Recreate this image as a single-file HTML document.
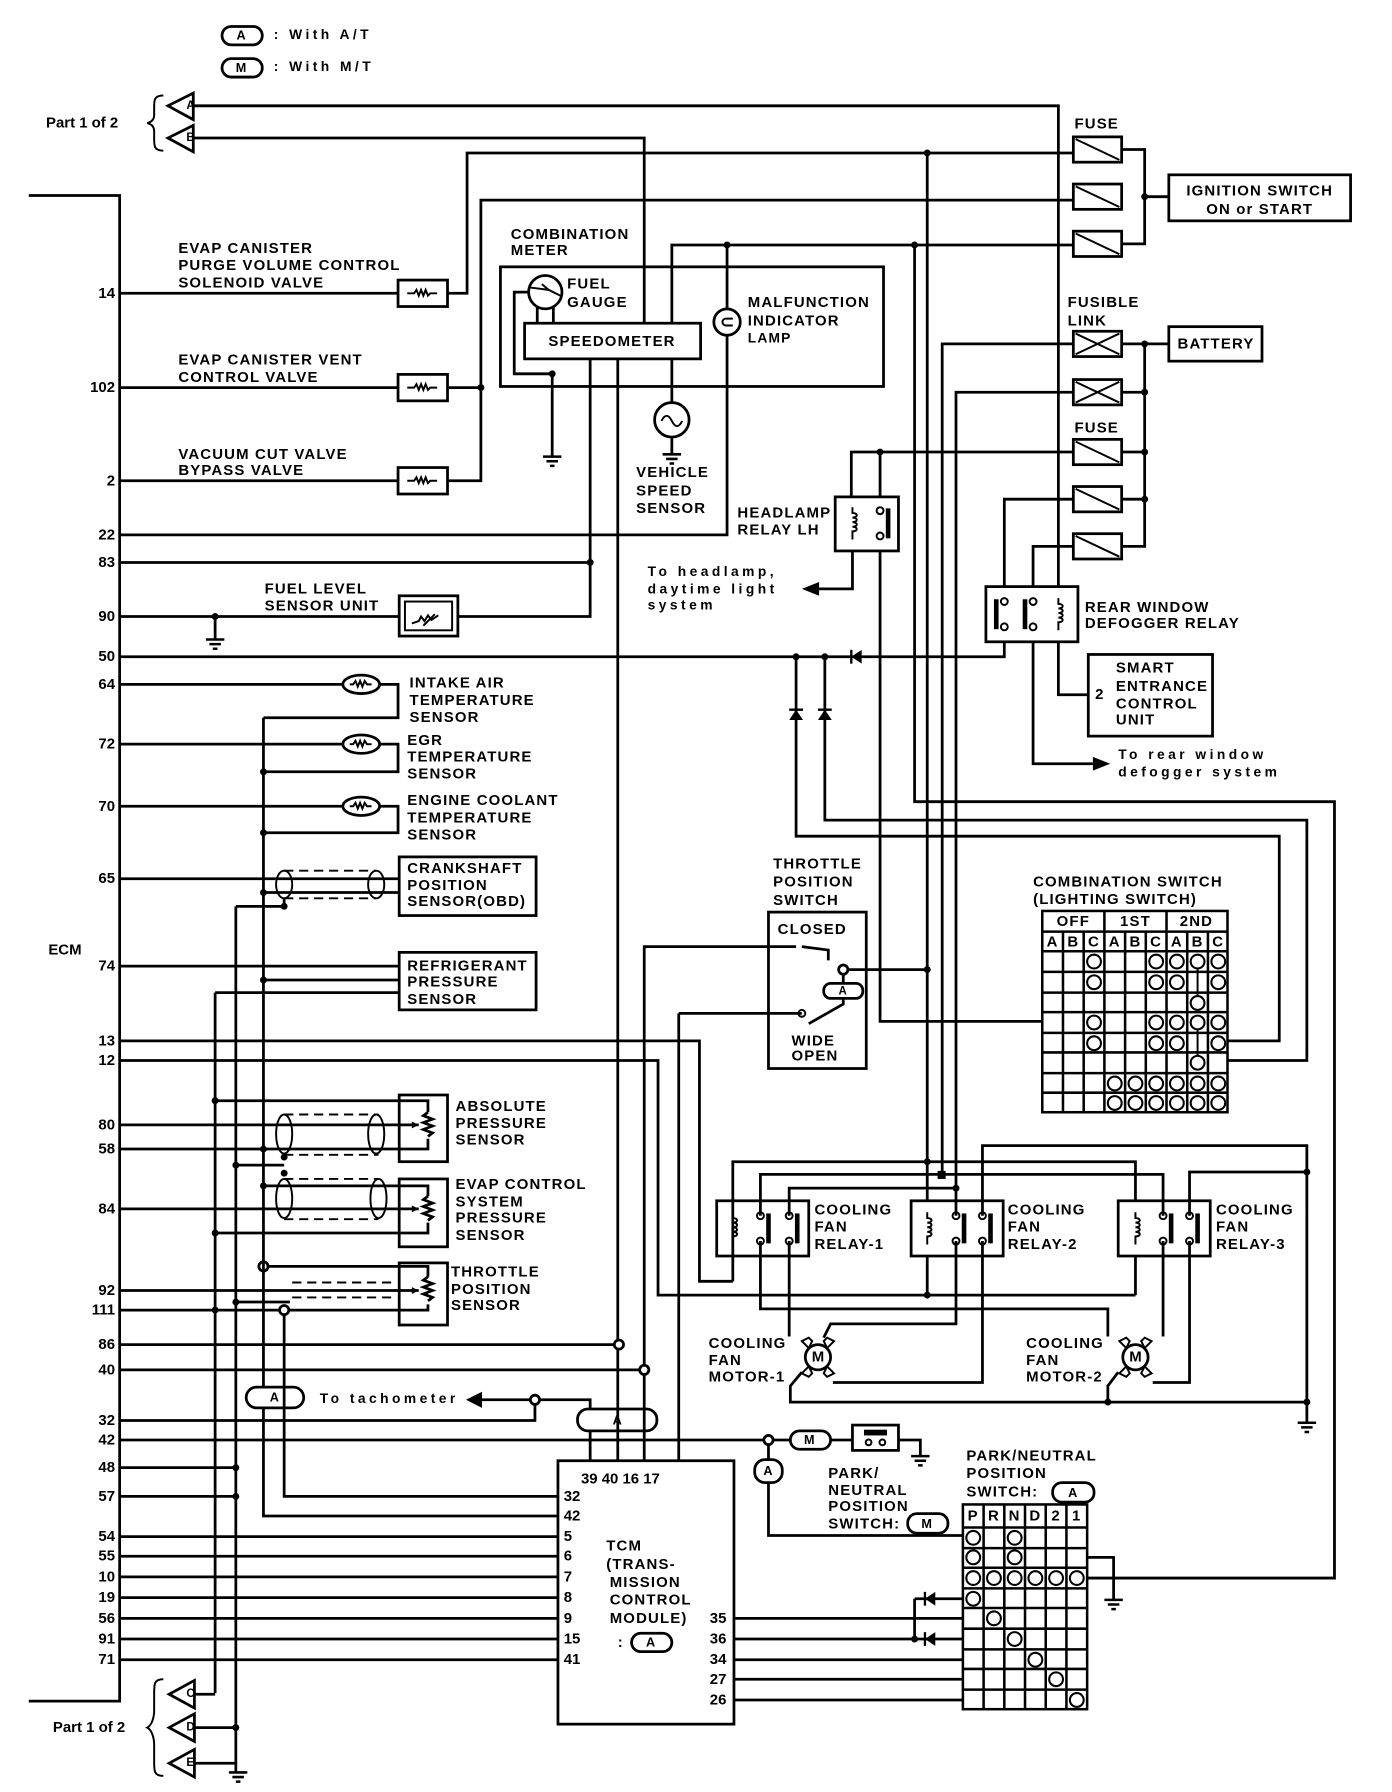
<!DOCTYPE html>
<html><head><meta charset="utf-8"><style>
html,body{margin:0;padding:0;background:#fff}
svg{display:block}
text{font-family:"Liberation Sans",sans-serif;font-weight:bold;font-size:13px;letter-spacing:1px;fill:#000;dominant-baseline:central}
.p{text-anchor:end;font-size:13px;letter-spacing:0}
.s{letter-spacing:3px;font-size:12px}
.w{fill:none;stroke:#000;stroke-width:2.4}
.t{fill:none;stroke:#000;stroke-width:1.7}
.d{fill:none;stroke:#000;stroke-width:1.7;stroke-dasharray:8 5}
</style></head><body>
<svg width="1392" height="1792" viewBox="0 0 1210 1558" preserveAspectRatio="none" xmlns="http://www.w3.org/2000/svg">
<rect width="1210" height="1558" fill="#fff"/>
<defs>
<g id="gnd"><path d="M-8,0H8M-5,4H5M-2,8H2" stroke="#000" stroke-width="2.2"/></g>
<g id="fuse"><rect x="0" y="-11" width="42" height="22" class="w"/><path d="M2,-9L40,9" class="t"/></g>
<g id="fl"><rect x="0" y="-11" width="42" height="22" class="w"/><path d="M2,-9L40,9M2,9L40,-9" class="t"/></g>
<g id="sol"><rect x="0" y="-11.5" width="43" height="23" class="w"/><path d="M8,0h6l2,-3l2,5l2,-5l2,5l2,-5l2,5l2,-2h6" class="t"/></g>
<g id="th"><ellipse cx="0" cy="0" rx="16" ry="8" class="w"/><path d="M-10,0h3l2,-3l2,5l2,-5l2,5l2,-5l2,3h4" class="t"/></g>
<g id="coil"><path d="M0,-14V-9c5,0 5,4 0,4c5,0 5,4 0,4c5,0 5,4 0,4c5,0 5,4 0,4V14" class="t"/></g>
<g id="ct"><circle cx="0" cy="-11" r="3" class="t" fill="#fff"/><circle cx="0" cy="11" r="3" class="t" fill="#fff"/><rect x="5" y="-13" width="4" height="26" fill="#000"/></g>
<g id="motor"><circle cx="0" cy="0" r="11" class="w"/><text x="0" y="0" text-anchor="middle" style="font-size:13px;letter-spacing:0">M</text>
<path d="M-14,-14l6,-3l3,3l-3,6z M14,-14l-6,-3l-3,3l3,6z M-14,14l6,3l3,-3l-3,-6z M14,14l-6,3l-3,-3l3,-6z" class="t"/></g>
</defs>

<rect x="193" y="23" width="35" height="16" rx="8" class="w"/><text x="210" y="31" text-anchor="middle" style="font-size:11px">A</text>
<text x="238" y="30" class="s">: With A/T</text>
<rect x="193" y="51" width="35" height="16" rx="8" class="w"/><text x="210" y="59" text-anchor="middle" style="font-size:11px">M</text>
<text x="238" y="58" class="s">: With M/T</text>

<text x="40" y="107" style="font-size:13px;letter-spacing:0">Part 1 of 2</text>
<path d="M142,83c-8,0 -8,4 -8,10v7c0,4 -2,6 -6,7c4,1 6,3 6,7v7c0,6 0,10 8,10" class="t"/>
<path d="M168,81L146,92L168,104Z" class="w"/><text x="162" y="92" style="font-size:10px;letter-spacing:0">A</text>
<path d="M168,109L146,120L168,132Z" class="w"/><text x="162" y="120" style="font-size:10px;letter-spacing:0">B</text>

<path d="M25,170H104V1479H25" class="w"/>
<text x="42" y="826" style="font-size:13px;letter-spacing:0">ECM</text>
<g class="p">
<text x="100" y="255" class="p">14</text><text x="100" y="337" class="p">102</text><text x="100" y="418" class="p">2</text>
<text x="100" y="465" class="p">22</text><text x="100" y="489" class="p">83</text><text x="100" y="536" class="p">90</text>
<text x="100" y="571" class="p">50</text><text x="100" y="595" class="p">64</text><text x="100" y="647" class="p">72</text>
<text x="100" y="701" class="p">70</text><text x="100" y="764" class="p">65</text><text x="100" y="840" class="p">74</text>
<text x="100" y="905" class="p">13</text><text x="100" y="922" class="p">12</text><text x="100" y="978" class="p">80</text>
<text x="100" y="999" class="p">58</text><text x="100" y="1051" class="p">84</text><text x="100" y="1122" class="p">92</text>
<text x="100" y="1139" class="p">111</text><text x="100" y="1169" class="p">86</text><text x="100" y="1191" class="p">40</text>
<text x="100" y="1235" class="p">32</text><text x="100" y="1252" class="p">42</text><text x="100" y="1276" class="p">48</text>
<text x="100" y="1301" class="p">57</text><text x="100" y="1336" class="p">54</text><text x="100" y="1353" class="p">55</text>
<text x="100" y="1371" class="p">10</text><text x="100" y="1389" class="p">19</text><text x="100" y="1407" class="p">56</text>
<text x="100" y="1425" class="p">91</text><text x="100" y="1443" class="p">71</text>
</g>

<path d="M168,92H920V510" class="w"/>
<path d="M168,120H560V281" class="w"/>
<path d="M104,255H346M390,255H406V133H933" class="w"/>
<path d="M104,337H346M390,337H418M390,418H418V174H933" class="w"/>
<path d="M104,418H346" class="w"/>
<use href="#sol" x="346" y="255"/><use href="#sol" x="346" y="337"/><use href="#sol" x="346" y="418"/>
<text x="155" y="216">EVAP CANISTER</text><text x="155" y="231">PURGE VOLUME CONTROL</text><text x="155" y="246">SOLENOID VALVE</text>
<text x="155" y="313">EVAP CANISTER VENT</text><text x="155" y="328">CONTROL VALVE</text>
<text x="155" y="395">VACUUM CUT VALVE</text><text x="155" y="409">BYPASS VALVE</text>

<text x="444" y="204">COMBINATION</text><text x="444" y="218">METER</text>
<rect x="435" y="232" width="333" height="104" class="w"/>
<rect x="456" y="281" width="153" height="31" class="w"/>
<text x="532" y="297" text-anchor="middle">SPEEDOMETER</text>
<circle cx="474" cy="254" r="14.5" class="w"/><path d="M461,250l16,2l10,5M477,252l-6,-5" class="t"/>
<text x="493" y="247">FUEL</text><text x="493" y="263">GAUGE</text>
<path d="M467,267V281M481,267V281M460,254H447V325H480V397" class="w"/>
<use href="#gnd" x="480" y="397"/>
<path d="M584,281V213H933" class="w"/>
<path d="M632,213V268M632,291V465H104" class="w"/>
<circle cx="632" cy="280" r="11.5" class="w"/><path d="M637,277h-6a3,3 0 0 0 0,6h6" class="t"/>
<text x="650" y="263">MALFUNCTION</text><text x="650" y="279">INDICATOR</text><text x="650" y="294" style="font-size:12px">LAMP</text>
<path d="M584,312V350M584,381V394" class="w"/>
<circle cx="584" cy="365" r="15" class="w"/><path d="M575,366c3,-6 6,-6 9,0s6,6 9,0" class="t"/>
<use href="#gnd" x="584" y="395"/>
<text x="553" y="411">VEHICLE</text><text x="553" y="427">SPEED</text><text x="553" y="442">SENSOR</text>
<path d="M513,312V536H398M104,489H513M537,312V1166" class="w"/>
<path d="M104,536H346" class="w"/>
<rect x="347" y="518" width="51" height="35" class="w"/><rect x="352" y="523" width="41" height="25" class="t"/>
<path d="M358,542l6,-2l2,-4l3,4l3,-5l3,4l6,-4M368,544l10,-10" class="t"/>
<path d="M187,536V556" class="w"/><use href="#gnd" x="187" y="556"/>
<text x="230" y="512">FUEL LEVEL</text><text x="230" y="527">SENSOR UNIT</text>

<text x="934" y="108">FUSE</text>
<use href="#fuse" x="933" y="130"/><use href="#fuse" x="933" y="171"/><use href="#fuse" x="933" y="212"/>
<path d="M975,130H995V212H975M995,171H1016" class="w"/>
<rect x="1016" y="152" width="158" height="40" class="w"/>
<text x="1095" y="166" text-anchor="middle">IGNITION SWITCH</text><text x="1095" y="182" text-anchor="middle">ON or START</text>
<text x="928" y="263">FUSIBLE</text><text x="928" y="279">LINK</text>
<use href="#fl" x="933" y="299"/><use href="#fl" x="933" y="341"/>
<text x="934" y="372">FUSE</text>
<use href="#fuse" x="933" y="393"/><use href="#fuse" x="933" y="434"/><use href="#fuse" x="933" y="475"/>
<path d="M975,299H1016M995,299V475H975M975,341H995M975,393H995M975,434H995" class="w"/>
<rect x="1016" y="284" width="81" height="30" class="w"/><text x="1057" y="299" text-anchor="middle">BATTERY</text>

<path d="M933,299H819V1021M933,341H831V1033M806,133V1044M806,1092V1126M795,213V697H1160V1372H945" class="w"/>
<path d="M933,393H740V432M765,393V432M765,479V888H906M741,479V512H712" class="w"/>
<path d="M697,512l15,-6v12z" fill="#000"/>
<rect x="726" y="432" width="55" height="47" class="w"/>
<use href="#coil" x="741" y="455"/><use href="#ct" x="765" y="455"/>
<text x="641" y="446">HEADLAMP</text><text x="641" y="461">RELAY LH</text>
<text x="563" y="497" class="s">To headlamp,</text><text x="563" y="512" class="s">daytime light</text><text x="563" y="526" class="s">system</text>

<path d="M933,434H873V510M933,475H898V510" class="w"/>
<rect x="857" y="510" width="80" height="48" class="w"/>
<g transform="translate(873,534) scale(-1,1)"><use href="#ct"/></g><g transform="translate(898,534) scale(-1,1)"><use href="#ct"/></g>
<use href="#coil" x="920" y="534"/>
<text x="943" y="528">REAR WINDOW</text><text x="943" y="542">DEFOGGER RELAY</text>
<path d="M873,558V571H104M920,558V604H946M898,558V664H950" class="w"/>
<path d="M965,664l-15,-6v12z" fill="#000"/>
<path d="M740,571l9,-6v12z" fill="#000"/><path d="M740,565v12" stroke="#000" stroke-width="2"/>
<rect x="946" y="569" width="108" height="71" class="w"/>
<text x="952" y="604">2</text>
<text x="970" y="581">SMART</text><text x="970" y="597">ENTRANCE</text><text x="970" y="612">CONTROL</text><text x="970" y="626">UNIT</text>
<text x="972" y="656" class="s">To rear window</text><text x="972" y="671" class="s">defogger system</text>
<path d="M692,571V727H1112V905H1067M717,571V713H1136V922H1067" class="w"/>
<path d="M686,626h12l-6,-9z M711,626h12l-6,-9z" fill="#000"/><path d="M686,617h12M711,617h12" stroke="#000" stroke-width="2"/>

<path d="M104,595H298M330,595H346V624H229M104,647H298M330,647H346V671H229M104,701H298M330,701H346V724H229" class="w"/>
<use href="#th" x="314" y="595"/><use href="#th" x="314" y="647"/><use href="#th" x="314" y="701"/>
<text x="356" y="594">INTAKE AIR</text><text x="356" y="609">TEMPERATURE</text><text x="356" y="624">SENSOR</text>
<text x="354" y="644">EGR</text><text x="354" y="658">TEMPERATURE</text><text x="354" y="673">SENSOR</text>
<text x="354" y="696">ENGINE COOLANT</text><text x="354" y="711">TEMPERATURE</text><text x="354" y="726">SENSOR</text>
<rect x="347" y="745" width="119" height="51" class="w"/>
<text x="354" y="755">CRANKSHAFT</text><text x="354" y="770">POSITION</text><text x="354" y="784">SENSOR(OBD)</text>
<path d="M104,764H347M229,776H347M205,788H247V781" class="w"/>
<path d="M247,757H327M247,781H327" class="d"/><ellipse cx="247" cy="769" rx="7" ry="12" class="t"/><ellipse cx="327" cy="769" rx="7" ry="12" class="t"/>
<rect x="347" y="828" width="119" height="50" class="w"/>
<text x="354" y="840">REFRIGERANT</text><text x="354" y="854">PRESSURE</text><text x="354" y="869">SENSOR</text>
<path d="M104,840H347M229,852H347M187,863H347" class="w"/>
<path d="M229,624V1206M229,1224V1318H484M187,863V1472M205,788V1533" class="w"/>
<path d="M104,905H608V1114H637M104,922H572V1126H987" class="w"/>

<rect x="347" y="952" width="42" height="58" class="w"/>
<path d="M187,957H372V967M104,978H364M372,990V999H104M372,967l-4,3l8,3l-8,3l8,3l-8,3l8,3l-4,3" class="w"/>
<path d="M358,975l6,3l-6,3z" fill="#000"/>
<path d="M247,969H329M247,1004H329" class="d"/><ellipse cx="247" cy="986" rx="7" ry="17" class="t"/><ellipse cx="327" cy="986" rx="7" ry="17" class="t"/>
<text x="396" y="962">ABSOLUTE</text><text x="396" y="977">PRESSURE</text><text x="396" y="991">SENSOR</text>
<rect x="347" y="1025" width="42" height="59" class="w"/>
<path d="M229,1031H372V1040M104,1051H364M372,1063V1072H187M372,1040l-4,3l8,3l-8,3l8,3l-8,3l8,3l-4,3M205,1013H247" class="w"/>
<path d="M358,1048l6,3l-6,3z" fill="#000"/>
<path d="M247,1025H329M247,1060H329" class="d"/><ellipse cx="247" cy="1042" rx="7" ry="17" class="t"/><ellipse cx="329" cy="1042" rx="7" ry="17" class="t"/>
<text x="396" y="1030">EVAP CONTROL</text><text x="396" y="1045">SYSTEM</text><text x="396" y="1059">PRESSURE</text><text x="396" y="1074">SENSOR</text>
<rect x="347" y="1098" width="42" height="54" class="w"/>
<path d="M233,1101H372V1110M104,1122H364M372,1134V1139H251M243,1139H104M372,1110l-4,3l8,3l-8,3l8,3l-8,3l8,3l-4,3M205,1132H252" class="w"/>
<path d="M358,1119l6,3l-6,3z" fill="#000"/>
<path d="M254,1115H340M254,1128H340" class="d"/>
<circle cx="229" cy="1101" r="4" class="w" fill="#fff"/><circle cx="247" cy="1139" r="4" class="w" fill="#fff"/>
<path d="M247,1143V1301H484" class="w"/>
<text x="392" y="1106">THROTTLE</text><text x="392" y="1121">POSITION</text><text x="392" y="1135">SENSOR</text>

<path d="M104,1169H534M104,1191H556M104,1235H465V1221M469,1217H513V1225M104,1252H664M104,1276H205M104,1301H205" class="w"/>
<circle cx="538" cy="1169" r="4" class="w" fill="#fff"/><circle cx="560" cy="1191" r="4" class="w" fill="#fff"/>
<circle cx="465" cy="1217" r="4" class="w" fill="#fff"/>
<path d="M560,1187V823H692M560,1195V1270M537,1173V1270M513,1244V1270M590,881V1270H590" class="w"/>
<rect x="502" y="1225" width="69" height="19" rx="9" class="w" fill="#fff"/><text x="537" y="1235" text-anchor="middle" style="font-size:11px">A</text>
<rect x="214" y="1206" width="50" height="18" rx="9" class="w" fill="#fff"/><text x="239" y="1215" text-anchor="middle" style="font-size:11px">A</text>
<text x="278" y="1216" class="s">To tachometer</text>
<path d="M405,1217l14,-7v14z" fill="#000"/><path d="M415,1217H461" class="w"/>

<rect x="485" y="1270" width="153" height="229" class="w"/>
<text x="505" y="1286" style="letter-spacing:0">39 40 16 17</text>
<text x="490" y="1301" style="letter-spacing:0">32</text><text x="490" y="1318" style="letter-spacing:0">42</text>
<text x="490" y="1336">5</text><text x="490" y="1353">6</text><text x="490" y="1371">7</text><text x="490" y="1389">8</text>
<text x="490" y="1407">9</text><text x="490" y="1425" style="letter-spacing:0">15</text><text x="490" y="1443" style="letter-spacing:0">41</text>
<path d="M104,1336H485M104,1353H485M104,1371H485M104,1389H485M104,1407H485M104,1425H485M104,1443H485" class="w"/>
<text x="527" y="1344">TCM</text><text x="527" y="1360">(TRANS-</text><text x="530" y="1376">MISSION</text><text x="530" y="1391">CONTROL</text><text x="530" y="1407">MODULE)</text>
<text x="537" y="1428">:</text><rect x="549" y="1420" width="35" height="16" rx="8" class="w"/><text x="566" y="1428" text-anchor="middle" style="font-size:11px">A</text>
<text x="617" y="1407" style="letter-spacing:0">35</text><text x="617" y="1425" style="letter-spacing:0">36</text><text x="617" y="1443" style="letter-spacing:0">34</text>
<text x="617" y="1460" style="letter-spacing:0">27</text><text x="617" y="1478" style="letter-spacing:0">26</text>
<path d="M638,1407H837M638,1425H837M638,1443H837M638,1460H837M638,1478H837M795,1390H837M795,1390V1425" class="w"/>
<path d="M804,1390l9,-6v12z M804,1425l9,-6v12z" fill="#000"/><path d="M804,1384v12M804,1419v12" stroke="#000" stroke-width="2"/>

<text x="46" y="1502" style="font-size:13px;letter-spacing:0">Part 1 of 2</text>
<path d="M142,1460c-8,0 -8,4 -8,12v15c0,6 -2,13 -6,15c4,2 6,9 6,15v15c0,8 0,12 8,12" class="t"/>
<path d="M169,1461L147,1473L169,1485Z" class="w"/><text x="162" y="1473" style="font-size:10px;letter-spacing:0">C</text>
<path d="M169,1490L147,1502L169,1514Z" class="w"/><text x="162" y="1502" style="font-size:10px;letter-spacing:0">D</text>
<path d="M169,1521L147,1533L169,1545Z" class="w"/><text x="162" y="1533" style="font-size:10px;letter-spacing:0">E</text>
<path d="M169,1473H187M169,1502H205M169,1533H205V1541" class="w"/>
<use href="#gnd" x="207" y="1541"/>

<text x="672" y="751">THROTTLE</text><text x="672" y="767">POSITION</text><text x="672" y="783">SWITCH</text>
<rect x="668" y="793" width="85" height="136" class="w"/>
<text x="676" y="808">CLOSED</text>
<path d="M697,823l23,3V835M737,843H806M733,847V855M733,867V873L703,890M697,881H590" class="w"/>
<circle cx="733" cy="843" r="4" class="w" fill="#fff"/><circle cx="697" cy="881" r="3" class="t" fill="#fff"/>
<rect x="716" y="855" width="34" height="13" rx="6" class="w" fill="#fff"/><text x="733" y="862" text-anchor="middle" style="font-size:10px">A</text>
<text x="688" y="905">WIDE</text><text x="688" y="918">OPEN</text>

<text x="898" y="767">COMBINATION SWITCH</text><text x="898" y="782">(LIGHTING SWITCH)</text>
<g stroke="#000" stroke-width="2.2" fill="none">
<rect x="906" y="792" width="161" height="175"/>
<path d="M906,810H1067M906,827H1067M906,845H1067M906,863H1067M906,880H1067M906,898H1067M906,915H1067M906,933H1067M906,950H1067"/>
<path d="M924,810V967M942,810V967M960,792V967M978,810V967M996,810V967M1014,792V967M1032,810V967M1050,810V967"/>
</g>
<g style="font-size:11px;letter-spacing:0">
<text x="933" y="801" text-anchor="middle">OFF</text><text x="987" y="801" text-anchor="middle">1ST</text><text x="1040" y="801" text-anchor="middle">2ND</text>
<text x="915" y="819" text-anchor="middle">A</text><text x="933" y="819" text-anchor="middle">B</text><text x="951" y="819" text-anchor="middle">C</text>
<text x="969" y="819" text-anchor="middle">A</text><text x="987" y="819" text-anchor="middle">B</text><text x="1005" y="819" text-anchor="middle">C</text>
<text x="1023" y="819" text-anchor="middle">A</text><text x="1041" y="819" text-anchor="middle">B</text><text x="1059" y="819" text-anchor="middle">C</text>
</g>
<g fill="#fff" stroke="#000" stroke-width="1.8">
<circle cx="951" cy="836" r="6"/><circle cx="1005" cy="836" r="6"/><circle cx="1023" cy="836" r="6"/><circle cx="1041" cy="836" r="6"/><circle cx="1059" cy="836" r="6"/>
<circle cx="951" cy="854" r="6"/><circle cx="1005" cy="854" r="6"/><circle cx="1023" cy="854" r="6"/><circle cx="1059" cy="854" r="6"/>
<circle cx="1041" cy="872" r="6"/>
<circle cx="951" cy="889" r="6"/><circle cx="1005" cy="889" r="6"/><circle cx="1023" cy="889" r="6"/><circle cx="1041" cy="889" r="6"/><circle cx="1059" cy="889" r="6"/>
<circle cx="951" cy="907" r="6"/><circle cx="1005" cy="907" r="6"/><circle cx="1023" cy="907" r="6"/><circle cx="1059" cy="907" r="6"/>
<circle cx="1041" cy="924" r="6"/>
<circle cx="969" cy="942" r="6"/><circle cx="987" cy="942" r="6"/><circle cx="1005" cy="942" r="6"/><circle cx="1023" cy="942" r="6"/><circle cx="1041" cy="942" r="6"/><circle cx="1059" cy="942" r="6"/>
<circle cx="969" cy="959" r="6"/><circle cx="987" cy="959" r="6"/><circle cx="1005" cy="959" r="6"/><circle cx="1023" cy="959" r="6"/><circle cx="1041" cy="959" r="6"/><circle cx="1059" cy="959" r="6"/>
</g>
<path d="M1041,842V866M1041,895V918" class="t"/>

<rect x="623" y="1044" width="80" height="48" class="w"/>
<rect x="792" y="1044" width="80" height="48" class="w"/>
<rect x="972" y="1044" width="80" height="48" class="w"/>
<use href="#coil" x="637" y="1068"/><use href="#ct" x="661" y="1068"/><use href="#ct" x="686" y="1068"/>
<use href="#coil" x="806" y="1068"/><use href="#ct" x="831" y="1068"/><use href="#ct" x="854" y="1068"/>
<use href="#coil" x="987" y="1068"/><use href="#ct" x="1011" y="1068"/><use href="#ct" x="1034" y="1068"/>
<text x="708" y="1052">COOLING</text><text x="708" y="1067">FAN</text><text x="708" y="1082">RELAY-1</text>
<text x="876" y="1052">COOLING</text><text x="876" y="1067">FAN</text><text x="876" y="1082">RELAY-2</text>
<text x="1057" y="1052">COOLING</text><text x="1057" y="1067">FAN</text><text x="1057" y="1082">RELAY-3</text>
<path d="M637,1114V1010H987V1044M987,1092V1126M637,1054V1044M637,1092V1114" class="w"/>
<path d="M661,1057V1021H1011V1057M661,1079V1138H963V1162M1011,1079V1162" class="w"/>
<path d="M686,1057V1033H831V1057M686,1079V1162M831,1079V1151H722L716,1163" class="w"/>
<path d="M854,1057V996H1136V1237M1136,1019H1034V1057M854,1079V1202H724M1034,1079V1202H1002" class="w"/>
<path d="M697,1193L687,1205V1219H1136M972,1193L963,1205V1219" class="w"/>
<use href="#gnd" x="1136" y="1237"/>
<use href="#motor" x="711" y="1180"/><use href="#motor" x="987" y="1180"/>
<text x="616" y="1168">COOLING</text><text x="616" y="1183">FAN</text><text x="616" y="1197">MOTOR-1</text>
<text x="892" y="1168">COOLING</text><text x="892" y="1183">FAN</text><text x="892" y="1197">MOTOR-2</text>

<circle cx="668" cy="1252" r="4" class="w" fill="#fff"/>
<rect x="687" y="1244" width="35" height="16" rx="8" class="w"/><text x="704" y="1252" text-anchor="middle" style="font-size:11px">M</text>
<path d="M672,1252H687M722,1252H741M781,1252H800V1266M668,1256V1269M668,1289V1335H837" class="w"/>
<use href="#gnd" x="800" y="1266"/>
<rect x="741" y="1239" width="40" height="22" class="w"/><rect x="751" y="1243" width="20" height="5" fill="#000"/>
<circle cx="755" cy="1254" r="2.5" class="t"/><circle cx="767" cy="1254" r="2.5" class="t"/>
<rect x="656" y="1269" width="24" height="20" rx="9" class="w"/><text x="668" y="1279" text-anchor="middle" style="font-size:11px">A</text>
<text x="720" y="1281">PARK/</text><text x="720" y="1296">NEUTRAL</text><text x="720" y="1310">POSITION</text><text x="720" y="1325">SWITCH:</text>
<rect x="789" y="1316" width="35" height="17" rx="8" class="w"/><text x="806" y="1325" text-anchor="middle" style="font-size:11px">M</text>
<text x="840" y="1266">PARK/NEUTRAL</text><text x="840" y="1281">POSITION</text><text x="840" y="1297">SWITCH:</text>
<rect x="915" y="1289" width="36" height="17" rx="8" class="w"/><text x="933" y="1298" text-anchor="middle" style="font-size:11px">A</text>
<g stroke="#000" stroke-width="2.2" fill="none">
<rect x="837" y="1308" width="108" height="178"/>
<path d="M837,1328H945M837,1346H945M837,1363H945M837,1381H945M837,1398H945M837,1416H945M837,1434H945M837,1451H945M837,1469H945"/>
<path d="M855,1308V1486M873,1308V1486M891,1308V1486M909,1308V1486M927,1308V1486"/>
</g>
<g style="font-size:11px;letter-spacing:0">
<text x="846" y="1318" text-anchor="middle">P</text><text x="864" y="1318" text-anchor="middle">R</text><text x="882" y="1318" text-anchor="middle">N</text>
<text x="900" y="1318" text-anchor="middle">D</text><text x="918" y="1318" text-anchor="middle">2</text><text x="936" y="1318" text-anchor="middle">1</text>
</g>
<g fill="#fff" stroke="#000" stroke-width="1.8">
<circle cx="846" cy="1337" r="6"/><circle cx="882" cy="1337" r="6"/>
<circle cx="846" cy="1354" r="6"/><circle cx="882" cy="1354" r="6"/>
<circle cx="846" cy="1372" r="6"/><circle cx="864" cy="1372" r="6"/><circle cx="882" cy="1372" r="6"/><circle cx="900" cy="1372" r="6"/><circle cx="918" cy="1372" r="6"/><circle cx="936" cy="1372" r="6"/>
<circle cx="846" cy="1390" r="6"/><circle cx="864" cy="1407" r="6"/><circle cx="882" cy="1425" r="6"/>
<circle cx="900" cy="1443" r="6"/><circle cx="918" cy="1460" r="6"/><circle cx="936" cy="1478" r="6"/>
</g>
<path d="M945,1354H968V1391" class="w"/><use href="#gnd" x="968" y="1391"/>

<g fill="#000">
<circle cx="806" cy="133" r="3"/><circle cx="418" cy="337" r="3"/><circle cx="632" cy="213" r="3"/><circle cx="795" cy="213" r="3"/>
<circle cx="995" cy="171" r="3"/><circle cx="995" cy="299" r="3"/><circle cx="995" cy="341" r="3"/><circle cx="995" cy="393" r="3"/><circle cx="995" cy="434" r="3"/>
<circle cx="765" cy="393" r="3"/><circle cx="480" cy="325" r="3"/><circle cx="513" cy="489" r="3"/><circle cx="187" cy="536" r="3"/>
<circle cx="717" cy="571" r="3"/><circle cx="692" cy="571" r="3"/>
<circle cx="229" cy="671" r="3"/><circle cx="229" cy="724" r="3"/><circle cx="229" cy="776" r="3"/><circle cx="247" cy="788" r="3"/><circle cx="229" cy="852" r="3"/>
<circle cx="187" cy="957" r="3"/><circle cx="229" cy="999" r="3"/><circle cx="205" cy="1013" r="3"/><circle cx="247" cy="1006" r="3"/><circle cx="247" cy="1020" r="3"/><circle cx="229" cy="1031" r="3"/><circle cx="187" cy="1072" r="3"/>
<circle cx="205" cy="1132" r="3"/><circle cx="187" cy="1139" r="3"/><circle cx="205" cy="1276" r="3"/><circle cx="205" cy="1301" r="3"/><circle cx="205" cy="1502" r="3"/>
<circle cx="806" cy="843" r="3"/><circle cx="806" cy="1010" r="3"/><rect x="815" y="1018" width="7" height="7"/><circle cx="831" cy="1033" r="3"/><circle cx="806" cy="1126" r="3"/>
<circle cx="1136" cy="1019" r="3"/><circle cx="963" cy="1219" r="3"/><circle cx="1136" cy="1219" r="3"/><circle cx="795" cy="1425" r="3"/>
</g>
</svg>
</body></html>
